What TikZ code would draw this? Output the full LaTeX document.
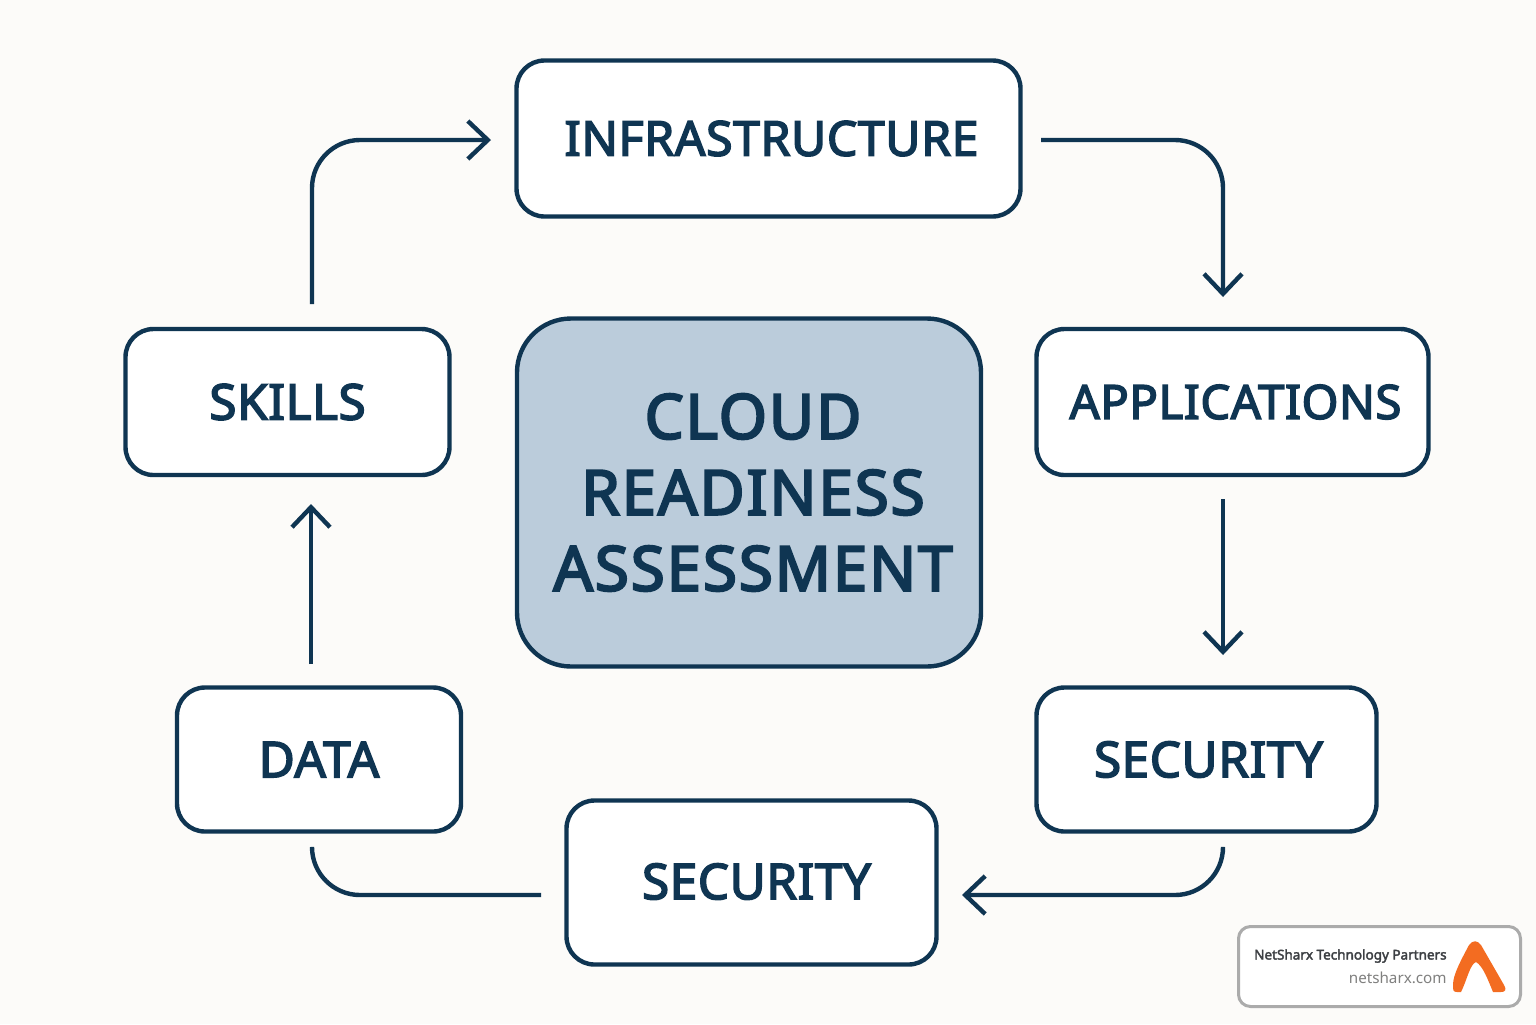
\documentclass[tikz,border=0pt]{standalone}
\usepackage{fontspec}
\setmainfont{Noto Sans}
\newfontfamily\topicfont{Noto Sans}[FakeBold=3.2,LetterSpace=1.2]
\newfontfamily\corefont{Noto Sans}[FakeBold=3.5,LetterSpace=3]
\newfontfamily\badgefont{Noto Sans}[FakeBold=2.5]
\usetikzlibrary{arrows.meta}
\definecolor{navy}{HTML}{0F3552}
\definecolor{paper}{HTML}{FCFBF9}
\definecolor{corebg}{HTML}{BBCCDB}
\definecolor{badgeline}{HTML}{ABABAB}
\definecolor{badgegray}{HTML}{80807F}
\definecolor{badgedark}{HTML}{3C3F43}
\definecolor{logoorange}{HTML}{F36C21}
\tikzstyle{topic} = [draw=navy, fill=white, line width=2.2pt, rounded corners=14pt, inner sep=0pt, text=navy, font=\topicfont\fontsize{24.7}{30}\selectfont]
\tikzstyle{flow} = [draw=navy, line width=2.2pt, rounded corners=24pt]
\tikzstyle{tip} = [-{Straight Barb[length=10pt,width=19pt,line width=2.2pt]}]

\begin{document}
\begin{tikzpicture}[x=0.5pt,y=-0.5pt]
      \useasboundingbox[fill=paper] (0,0) rectangle (1536,1024);
      \node[topic, minimum width=252pt, minimum height=78pt, font=\topicfont\fontsize{24.1}{30}\selectfont] (infra) at (768.5,138.5) {\kern3pt INFRASTRUCTURE};
      \node[topic, minimum width=162pt, minimum height=73pt] (skills) at (287.5,402) {\raisebox{-0.5pt}{SKILLS}};
      \node[topic, minimum width=196pt, minimum height=73pt, font=\topicfont\fontsize{23.6}{30}\selectfont] (apps) at (1232.5,402) {\kern3pt\raisebox{-0.5pt}{APPLICATIONS}};
      \node[topic, minimum width=142pt, minimum height=72pt] (data) at (319,759.5) {DATA};
      \node[topic, minimum width=170pt, minimum height=72pt] (secright) at (1206.5,759.5) {\kern2pt SECURITY};
      \node[topic, minimum width=185pt, minimum height=82pt] (secbottom) at (751.5,882.5) {\kern5pt\raisebox{1.2pt}{SECURITY}};
      \node[topic, fill=corebg, minimum width=232pt, minimum height=174pt, rounded corners=27pt, align=center, font=\corefont\fontsize{31}{38}\selectfont] (core) at (749,492.5) {\kern4pt CLOUD\\\kern4pt READINESS\\\kern4pt ASSESSMENT};
      % free ends of the connectors
      \coordinate (infraout) at (1041,140);
      \coordinate (appsin) at (1223,297);
      \coordinate (appsout) at (1223,499);
      \coordinate (secrightin) at (1223,655);
      \coordinate (secrightout) at (1223,852);
      \coordinate (secbottomin) at (962,895);
      \coordinate (secbottomout) at (541,895);
      \coordinate (dataend) at (312,850);
      \coordinate (dataout) at (311,664);
      \coordinate (skillsin) at (311,504);
      \coordinate (skillsout) at (312,304);
      \coordinate (infrain) at (491,140);
      \draw[flow, tip] (infraout) -- (appsin |- infraout) -- (appsin);
      \draw[flow, tip] (appsout) -- (secrightin);
      \draw[flow, tip] (secrightout) -- (secrightout |- secbottomin) -- (secbottomin);
      \draw[flow] (secbottomout) -- (dataend |- secbottomout) -- (dataend);
      \draw[flow, tip] (dataout) -- (skillsin);
      \draw[flow, tip] (skillsout) -- (skillsout |- infrain) -- (infrain);
      % badge
      \node[draw=badgeline, fill=white, line width=1.5pt, rounded corners=6pt, minimum width=141pt, minimum height=40pt, inner sep=0pt] (badge) at (1379.5,966.5) {};
      \node[anchor=east, inner sep=0pt, text=badgedark, font=\badgefont\fontsize{6.75}{8}\selectfont] (badgename) at (1447,956) {NetSharx Technology Partners};
      \node[anchor=east, inner sep=0pt, text=badgegray, font=\fontsize{7.6}{9}\selectfont] (badgeurl) at (1447,978) {netsharx.com};
      \fill[logoorange] (1469,945) .. controls (1473,940) and (1477,940) .. (1481,945) -- (1504,985) .. controls (1507,990) and (1505,992) .. (1501,992) -- (1493,992) .. controls (1488,980) and (1483,966) .. (1476,962) .. controls (1470,964) and (1467,980) .. (1461,992) -- (1457,992) .. controls (1453,992) and (1453,990) .. (1453,985) .. controls (1453,975) and (1460,962) .. (1469,945) -- cycle;
    \end{tikzpicture}
\end{document}
